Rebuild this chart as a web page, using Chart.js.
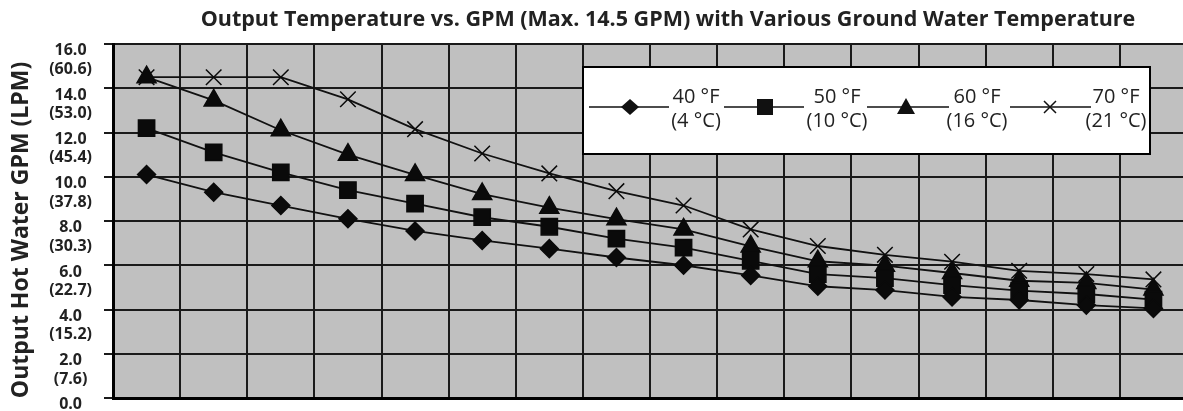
<!DOCTYPE html>
<html lang="en">
<head>
  <meta charset="UTF-8">
  <title>Output Temperature vs. GPM</title>
  <style>
    body {
      margin: 0;
      overflow: hidden;
      background: #fff;
    }
    #wrap {
      position: relative;
      width: 1336px;
      height: 411px;
    }
  </style>
</head>
<body>

  <div id="wrap"><canvas id="gpm-chart"></canvas></div>

  <script src="https://cdn.jsdelivr.net/npm/chart.js"></script>
  <script>
    // x steps (the original shows no x labels)
    const flowSteps = ['1', '2', '3', '4', '5', '6', '7', '8', '9', '10', '11', '12', '13', '14', '15', '16'];

    // output GPM for each ground water temperature
    const gw40 = [10.1, 9.3, 8.7, 8.1, 7.55, 7.12, 6.75, 6.35, 6.0, 5.54, 5.05, 4.88, 4.57, 4.43, 4.2, 4.05];
    const gw50 = [12.2, 11.1, 10.2, 9.4, 8.78, 8.17, 7.74, 7.2, 6.8, 6.2, 5.6, 5.42, 5.1, 4.85, 4.7, 4.45];
    const gw60 = [14.5, 13.45, 12.1, 11.0, 10.08, 9.22, 8.6, 8.08, 7.62, 6.85, 6.18, 5.98, 5.65, 5.3, 5.2, 4.9];
    const gw70 = [14.5, 14.5, 14.5, 13.5, 12.15, 11.05, 10.15, 9.35, 8.7, 7.62, 6.87, 6.47, 6.16, 5.75, 5.6, 5.36];

    const tempF = ['40 °F', '50 °F', '60 °F', '70 °F'];
    const tempC = ['(4 °C)', '(10 °C)', '(16 °C)', '(21 °C)'];

    // y tick labels: GPM with LPM underneath
    const gpmTicks = ['0.0', '2.0', '4.0', '6.0', '8.0', '10.0', '12.0', '14.0', '16.0'];
    const lpmTicks = ['', '(7.6)', '(15.2)', '(22.7)', '(30.3)', '(37.8)', '(45.4)', '(53.0)', '(60.6)'];

    const ink = '#111';
    const gridInk = '#1a1a1a';
    const fontFamily = '"Open Sans", "DejaVu Sans", sans-serif';

    // grey plot background
    const plotBackground = {
      id: 'plotBackground',
      beforeDraw(chart) {
        const a = chart.chartArea;
        const ctx = chart.ctx;
        ctx.save();
        ctx.fillStyle = '#c0c0c0';
        ctx.fillRect(a.left, a.top, a.right - a.left, a.bottom - a.top);
        ctx.restore();
      }
    };

    function drawMarker(ctx, style, x, y) {
      ctx.beginPath();
      if (style === 'diamond') {
        ctx.moveTo(x - 9, y);
        ctx.lineTo(x, y - 8);
        ctx.lineTo(x + 9, y);
        ctx.lineTo(x, y + 8);
        ctx.closePath();
        ctx.fill();
      } else if (style === 'square') {
        ctx.rect(x - 8, y - 8, 16, 16);
        ctx.fill();
      } else if (style === 'triangle') {
        ctx.moveTo(x, y - 9);
        ctx.lineTo(x + 9, y + 7);
        ctx.lineTo(x - 9, y + 7);
        ctx.closePath();
        ctx.fill();
      } else {
        ctx.moveTo(x - 6, y - 6);
        ctx.lineTo(x + 6, y + 6);
        ctx.moveTo(x + 6, y - 6);
        ctx.lineTo(x - 6, y + 6);
        ctx.stroke();
      }
    }

    // boxed legend with two-line labels, drawn inside the plot
    const boxLegend = {
      id: 'boxLegend',
      afterDatasetsDraw(chart) {
        const ctx = chart.ctx;
        const styles = ['diamond', 'square', 'triangle', 'cross'];
        const lines = [[589, 669], [724, 804], [867, 949], [1010, 1091]];
        const marks = [630, 765, 906, 1050];
        const texts = [696, 837, 977, 1116];
        ctx.save();
        ctx.fillStyle = '#fff';
        ctx.fillRect(583, 67, 567, 87);
        ctx.strokeStyle = '#000';
        ctx.lineWidth = 2;
        ctx.strokeRect(583, 67, 567, 87);
        ctx.lineWidth = 1.5;
        ctx.strokeStyle = ink;
        ctx.fillStyle = ink;
        ctx.font = '20px ' + fontFamily;
        ctx.textAlign = 'center';
        ctx.textBaseline = 'middle';
        for (let i = 0; i < 4; i++) {
          ctx.beginPath();
          ctx.moveTo(lines[i][0], 107);
          ctx.lineTo(lines[i][1], 107);
          ctx.stroke();
          drawMarker(ctx, styles[i], marks[i], 107);
          ctx.fillStyle = '#222';
          ctx.fillText(tempF[i], texts[i], 97);
          ctx.fillText(tempC[i], texts[i], 121);
          ctx.fillStyle = ink;
        }
        ctx.restore();
      }
    };

    function series(data, style, radius) {
      return {
        data: data,
        borderColor: ink,
        borderWidth: 1.8,
        pointStyle: style,
        pointRadius: radius,
        pointBackgroundColor: '#0a0a0a',
        pointBorderColor: '#0a0a0a',
        pointBorderWidth: 1.5,
        fill: false,
        tension: 0
      };
    }

    const ctx = document.getElementById('gpm-chart').getContext('2d');
    new Chart(ctx, {
      type: 'line',
      data: {
        labels: flowSteps,
        datasets: [
          Object.assign(series(gw40, 'rectRot', 9), { label: tempF[0] }),
          Object.assign(series(gw50, 'rect', 11.5), { label: tempF[1] }),
          Object.assign(series(gw60, 'triangle', 11), { label: tempF[2] }),
          Object.assign(series(gw70, 'crossRot', 11), { label: tempF[3] })
        ]
      },
      options: {
        responsive: true,
        maintainAspectRatio: false,
        animation: false,
        layout: { padding: { top: 0, bottom: 6, left: 0, right: 0 } },
        plugins: {
          legend: { display: false },
          tooltip: { enabled: false },
          title: {
            display: true,
            text: 'Output Temperature vs. GPM (Max. 14.5 GPM) with Various Ground Water Temperature',
            color: '#222',
            font: { family: fontFamily, size: 21.5, weight: 'bold', lineHeight: 1.2 },
            padding: { top: 7, bottom: 11.2 }
          }
        },
        scales: {
          x: {
            type: 'category',
            offset: true,
            ticks: { display: false },
            grid: { offset: true, color: gridInk, lineWidth: 2, drawTicks: false },
            border: { color: '#000', width: 3 }
          },
          y: {
            min: 0,
            max: 16,
            ticks: {
              stepSize: 2,
              color: '#222',
              font: { family: fontFamily, size: 16, weight: 'bold', lineHeight: 1.16 },
              crossAlign: 'center',
              padding: 12,
              labelOffset: 16,
              callback: (value, index) => [gpmTicks[index], lpmTicks[index]]
            },
            grid: { color: gridInk, lineWidth: 2, tickLength: 9 },
            border: { color: '#000', width: 3 },
            title: {
              display: true,
              // trailing spaces nudge the rotated title down a little
              text: 'Output Hot Water GPM (LPM)\u00a0\u00a0\u00a0',
              color: '#222',
              font: { family: fontFamily, size: 23, weight: 'bold', lineHeight: 1.2 },
              padding: { top: 8, bottom: 0 }
            },
            afterFit(scale) {
              scale.width = 113;
              scale.paddingTop = 0;
              scale.paddingBottom = 0;
            }
          },
          // empty right-hand strip: the plot runs past the picture's right edge
          yPad: {
            position: 'right',
            min: 0,
            max: 16,
            ticks: { display: false },
            grid: { display: false },
            border: { display: false },
            afterFit(scale) {
              scale.width = 149;
            }
          }
        }
      },
      plugins: [plotBackground, boxLegend]
    });
  </script>
</body>
</html>
